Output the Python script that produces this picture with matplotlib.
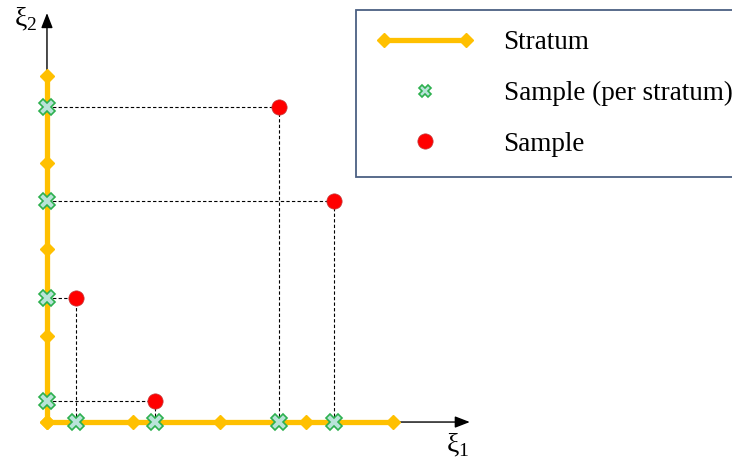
import matplotlib

matplotlib.use("Agg")
import matplotlib.pyplot as plt
from matplotlib.lines import Line2D
from matplotlib.legend_handler import HandlerLine2D

# stratum boundaries (same on both axes)
BOUNDS = [0, 1, 2, 3, 4]
# one sample per stratum along each axis
XI1_STRAT = [0.335, 1.25, 2.68, 3.32]
XI2_STRAT = [0.243, 1.43, 2.55, 3.64]
# paired samples (xi1, xi2)
SAMPLE_X = [1.25, 0.335, 3.32, 2.68]
SAMPLE_Y = [0.243, 1.43, 2.55, 3.64]
LABELS = ["Stratum", "Sample (per stratum)", "Sample"]

ORANGE, GREEN, MINT, RED = "#FFC000", "#2DB04F", "#B9E3D9", "#FF0000"


def main():
    plt.rcParams["font.family"] = ["Liberation Serif", "DejaVu Serif"]
    plt.rcParams["mathtext.fontset"] = "custom"
    plt.rcParams["mathtext.rm"] = "Liberation Serif"
    fig = plt.figure(figsize=(7.32, 4.62), dpi=100)
    ax = fig.add_axes([0, 0, 1, 1])
    ax.set_xlim(-0.543, 7.919)
    ax.set_ylim(-0.462, 4.879)
    ax.axis("off")

    # axes arrows
    arrow = dict(arrowstyle="-|>,head_length=0.9,head_width=0.35", color="black", lw=1)
    ax.annotate("", xy=(4.92, 0), xytext=(0, 0), arrowprops=arrow, zorder=1)
    ax.annotate("", xy=(0, 4.76), xytext=(0, 0), arrowprops=arrow, zorder=1)
    ax.text(4.75, -0.27, r"ξ$_{\mathrm{1}}$", fontsize=20, ha="center", va="center")
    ax.text(-0.25, 4.66, r"ξ$_{\mathrm{2}}$", fontsize=20, ha="center", va="center")

    # dashed projection lines
    for sx, sy in zip(SAMPLE_X, SAMPLE_Y):
        ax.plot([0, sx], [sy, sy], ls=(0, (3, 2)), color="black", lw=0.8, zorder=2)
        ax.plot([sx, sx], [0, sy], ls=(0, (3, 2)), color="black", lw=0.8, zorder=2)

    # strata along both axes
    ax.plot(BOUNDS, [0] * len(BOUNDS), color=ORANGE, lw=3.8, marker="D",
            ms=7, zorder=3)
    ax.plot([0] * len(BOUNDS), BOUNDS, color=ORANGE, lw=3.8, marker="D",
            ms=7, zorder=3)

    xkw = dict(marker="X", ms=11, mfc=MINT, mec=GREEN, mew=1.2, ls="none", zorder=4)
    ax.plot(XI1_STRAT, [0] * 4, **xkw)
    ax.plot([0] * 4, XI2_STRAT, **xkw)

    okw = dict(marker="o", ms=11, mfc=RED, mec="#c04040", mew=0.5, ls="none")
    ax.plot(SAMPLE_X, SAMPLE_Y, zorder=5, **okw)

    h_strat = Line2D([], [], color=ORANGE, lw=3.8, marker="D", ms=7)
    h_xs = Line2D([], [], **{**xkw, "ms": 9})
    h_red = Line2D([], [], **okw)
    leg = ax.legend([h_strat, h_xs, h_red], LABELS,
                    handler_map={h_strat: HandlerLine2D(numpoints=2),
                                 h_xs: HandlerLine2D(numpoints=1),
                                 h_red: HandlerLine2D(numpoints=1)},
                    loc="upper left", bbox_to_anchor=(356 / 732, 1 - 10 / 462),
                    fontsize=19.5, frameon=True, fancybox=False, handlelength=3.6,
                    handletextpad=1.1, labelspacing=0.95, borderpad=0.75,
                    borderaxespad=0)
    leg.get_frame().set_edgecolor("#1F3864")
    leg.get_frame().set_linewidth(1.3)

    fig.savefig("out.png", dpi=100)
    plt.close(fig)


if __name__ == "__main__":
    main()
